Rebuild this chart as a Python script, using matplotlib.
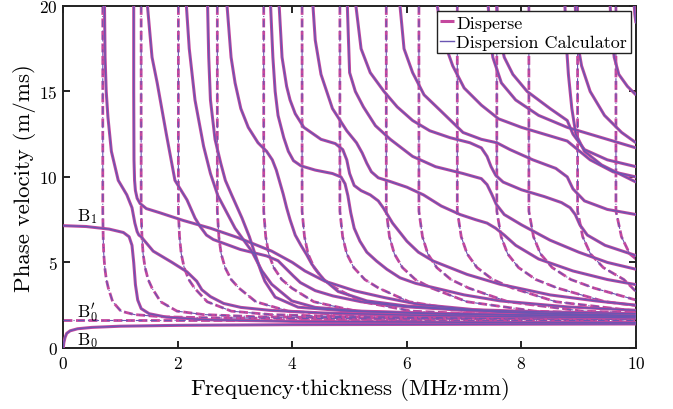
import matplotlib
matplotlib.use("Agg")
import matplotlib.pyplot as plt

plt.rcParams['font.family'] = ['cmr10']
plt.rcParams['mathtext.fontset'] = 'cm'
plt.rcParams['axes.formatter.use_mathtext'] = True

PINK = '#C4489E'
BLUE = '#6A55B2'

# ---- solid modes (fd in MHz*mm, phase velocity in m/ms) ----
b0_x = [0, 0.01, 0.03, 0.06, 0.12, 0.25, 0.5, 1.0, 2.0, 4.0, 7.0, 10.0]
b0_y = [0, 0.3, 0.6, 0.85, 1.0, 1.12, 1.2, 1.27, 1.32, 1.36, 1.38, 1.4]

b1_x = [0, 0.4, 0.8, 1.05, 1.15, 1.2, 1.23, 1.26, 1.3, 1.36, 1.5, 1.8, 2.5, 4, 7, 10]
b1_y = [7.15, 7.1, 6.95, 6.75, 6.5, 6.0, 5.0, 3.7, 2.8, 2.3, 2.0, 1.8, 1.65, 1.55, 1.5, 1.48]

sa_x = [0.72, 0.73, 0.75, 0.78, 0.84, 0.96, 1.11, 1.2, 1.25, 1.29, 1.32, 1.36, 1.57, 1.9, 2.16, 2.33, 2.42, 2.57, 2.8, 3.1, 3.6, 4.5, 6, 8, 10]
sa_y = [20, 17, 15, 13.5, 11.5, 9.8, 8.95, 8.2, 7.3, 6.8, 6.6, 6.5, 5.66, 5.0, 4.45, 3.9, 3.4, 3.0, 2.6, 2.37, 2.2, 2.05, 1.92, 1.82, 1.76]

sb_x = [1.23, 1.23, 1.235, 1.245, 1.26, 1.29, 1.34, 1.45, 1.69, 2.1, 2.57, 3.05, 3.64, 4.0, 4.22, 4.57, 5.1, 5.6, 6.2, 7.6, 10]
sb_y = [20, 15, 11, 9.8, 9.2, 8.75, 8.45, 8.15, 7.9, 7.45, 7.0, 6.45, 5.66, 5.0, 4.5, 3.9, 3.33, 2.95, 2.55, 2.1, 1.85]

sc_x = [1.47, 1.55, 1.64, 1.8, 1.95, 2.16, 2.3, 2.39, 2.5, 2.62, 3.09, 3.55, 3.75, 3.9, 4.02, 4.14, 4.4, 4.71, 5.2, 6, 7, 8.5, 10]
sc_y = [20, 17, 15.5, 12.5, 9.8, 8.66, 7.6, 7.1, 6.6, 6.34, 5.76, 5.38, 5.1, 4.6, 4.2, 3.82, 3.35, 3.04, 2.7, 2.4, 2.2, 2.0, 1.9]

sd_x = [2.15, 2.2, 2.3, 2.45, 2.57, 2.7, 3.0, 3.29, 3.47, 3.64, 3.99, 4.4, 5.2, 6.5, 8, 10]
sd_y = [20, 17.5, 14.5, 11.8, 10.2, 8.9, 7.0, 5.66, 4.5, 3.72, 2.75, 2.37, 2.15, 2.02, 1.93, 1.86]

se_x = [2.52, 2.54, 2.57, 2.65, 2.75, 2.83, 2.94, 3.12, 3.25, 3.35, 3.45, 3.52, 3.7, 4.1, 5, 6.5, 8, 10]
se_y = [20, 17, 14.5, 12.2, 10.8, 9.8, 8.95, 7.6, 6.5, 5.47, 4.5, 3.9, 2.97, 2.38, 2.15, 2.0, 1.92, 1.85]

sf_x = [2.86, 2.93, 3.0, 3.1, 3.23, 3.4, 3.55, 3.65, 3.72, 3.78, 3.84, 3.9, 3.96, 4.05, 4.15, 4.25, 4.34, 4.45, 4.55, 4.8, 5.3, 6, 7, 8.5, 10]
sf_y = [20, 17, 15.5, 14.0, 12.9, 12.0, 11.5, 11.0, 10.4, 9.7, 9.0, 8.2, 7.5, 6.6, 6.0, 5.45, 4.9, 4.4, 4.0, 3.3, 2.75, 2.45, 2.25, 2.1, 2.0]

sg_x = [3.62, 3.66, 3.7, 3.75, 3.85, 3.93, 4.02, 4.15, 4.4, 4.7, 4.85, 4.92, 4.97, 5.02, 5.08, 5.18, 5.3, 5.47, 5.65, 5.88, 6.15, 6.46, 7.0, 7.63, 8.8, 10]
sg_y = [20, 17, 15, 13.6, 12.3, 11.5, 10.95, 10.65, 10.4, 10.2, 10.0, 9.6, 8.9, 7.9, 7.0, 6.24, 5.6, 5.08, 4.6, 4.1, 3.78, 3.53, 3.1, 2.75, 2.4, 2.2]

sh_x = [3.77, 3.82, 3.9, 3.96, 4.05, 4.2, 4.5, 4.75, 4.88, 4.95, 5.0, 5.08, 5.2, 5.36, 5.5, 5.59, 5.75, 6.0, 6.2, 6.46, 7.05, 7.63, 8.5, 9.3, 10]
sh_y = [20, 17, 15.3, 14.5, 13.7, 12.9, 12.2, 11.95, 11.6, 11.0, 10.2, 9.5, 9.2, 8.95, 8.6, 8.18, 7.3, 6.24, 5.6, 5.08, 4.3, 3.72, 3.1, 2.75, 2.5]

si_x = [4.36, 4.4, 4.5, 4.7, 4.95, 5.12, 5.22, 5.3, 5.38, 5.5, 5.71, 6.0, 6.29, 6.6, 6.93, 7.2, 7.4, 7.55, 7.7, 7.9, 8.3, 8.9, 9.5, 10]
si_y = [20, 18, 16, 14, 12.7, 12.0, 11.4, 10.8, 10.3, 9.95, 9.73, 9.4, 8.95, 8.3, 7.8, 7.5, 7.3, 7.0, 6.6, 6.0, 5.2, 4.5, 4.0, 3.7]

sj_x = [4.96, 4.98, 5.0, 5.1, 5.24, 5.45, 5.71, 6.1, 6.5, 6.98, 7.3, 7.4, 7.48, 7.56, 7.7, 8.0, 8.5, 9.0, 9.5, 10]
sj_y = [20, 18, 16.1, 15, 14.1, 13.0, 12.2, 11.2, 10.6, 10.2, 9.9, 9.55, 9.0, 8.4, 7.8, 7.2, 6.3, 5.6, 5.0, 4.6]

sk_x = [5.11, 5.2, 5.36, 5.6, 5.83, 6.1, 6.4, 6.75, 7.1, 7.3, 7.4, 7.47, 7.55, 7.68, 8.0, 8.4, 8.7, 8.85, 8.94, 9.02, 9.15, 9.46, 10]
sk_y = [20, 17.5, 16.1, 15, 14.1, 13.3, 12.7, 12.3, 12.0, 11.7, 11.2, 10.6, 10.1, 9.7, 9.25, 8.85, 8.5, 8.2, 7.8, 7.2, 6.6, 6.0, 5.4]

sl_x = [5.88, 5.95, 6.1, 6.3, 6.58, 6.98, 7.3, 7.57, 7.8, 8.2, 8.6, 8.8, 8.9, 9.1, 9.5, 10]
sl_y = [20, 17.5, 16.1, 14.8, 13.9, 12.6, 12.2, 12.0, 11.6, 11.0, 10.5, 10.0, 9.3, 8.6, 8.1, 7.8]

sm_x = [6.53, 6.58, 6.63, 6.8, 7.0, 7.3, 7.6, 8.0, 8.5, 8.8, 9.2, 9.6, 10]
sm_y = [20, 19, 18.1, 16.5, 15.2, 14.2, 13.4, 12.9, 12.4, 12.1, 11.0, 10.3, 10.0]

sn_x = [7.42, 7.45, 7.5, 7.65, 7.9, 8.3, 8.8, 9.3, 9.8, 10]
sn_y = [20, 18.5, 17, 15.5, 14.5, 13.6, 12.9, 12.4, 11.9, 11.7]

so_x = [7.57, 7.6, 7.7, 7.85, 8.1, 8.5, 8.8, 8.9, 9.1, 9.5, 10]
so_y = [20, 18.5, 17, 16, 15, 14, 13.3, 12.5, 11.6, 11.0, 10.6]

sp_x = [8.76, 8.78, 8.82, 8.88, 8.95, 9.1, 9.4, 9.7, 10]
sp_y = [20, 18, 16, 14, 12.5, 11.5, 10.7, 10.2, 9.7]

sq_x = [8.94, 8.97, 9.05, 9.2, 9.45, 9.75, 10]
sq_y = [20, 18, 16.5, 15.0, 13.6, 12.6, 12.0]

sr_x = [9.55, 9.57, 9.62, 9.7, 9.85, 10]
sr_y = [20, 18.5, 17, 16, 15.3, 14.8]

ss_x = [9.97, 9.98, 10]
ss_y = [20, 19.5, 19]

# ---- dashed modes (B0' and its overtones) ----
b0p_x = [0, 10]
b0p_y = [1.65, 1.65]

d1_x = [0.69, 0.69, 0.697, 0.707, 0.725, 0.752, 0.787, 0.863, 1.007, 1.242, 1.725, 2.76, 5.52, 10]
d1_y = [20, 8, 6.5, 5.5, 4.7, 4.0, 3.5, 2.7, 2.15, 1.95, 1.82, 1.75, 1.7, 1.68]
d2_x = [1.36, 1.36, 1.374, 1.394, 1.428, 1.482, 1.55, 1.7, 1.986, 2.448, 3.4, 5.44, 10]
d2_y = [20, 8, 6.5, 5.5, 4.7, 4.0, 3.5, 2.7, 2.15, 1.95, 1.82, 1.75, 1.71]
d3_x = [2.01, 2.01, 2.03, 2.06, 2.111, 2.191, 2.291, 2.513, 2.935, 3.618, 5.025, 8.04, 10]
d3_y = [20, 8, 6.5, 5.5, 4.7, 4.0, 3.5, 2.7, 2.15, 1.95, 1.82, 1.75, 1.74]
d4_x = [2.69, 2.69, 2.717, 2.757, 2.825, 2.932, 3.067, 3.363, 3.927, 4.842, 6.725, 10]
d4_y = [20, 8, 6.5, 5.5, 4.7, 4.0, 3.5, 2.7, 2.15, 1.95, 1.82, 1.76]
d5_x = [3.5, 3.5, 3.535, 3.588, 3.675, 3.815, 3.99, 4.375, 5.11, 6.3, 8.75, 10]
d5_y = [20, 8, 6.5, 5.5, 4.7, 4.0, 3.5, 2.7, 2.15, 1.95, 1.82, 1.8]
d6_x = [4.17, 4.17, 4.212, 4.274, 4.379, 4.545, 4.754, 5.213, 6.088, 7.506, 10]
d6_y = [20, 8, 6.5, 5.5, 4.7, 4.0, 3.5, 2.7, 2.15, 1.95, 1.83]
d7_x = [4.83, 4.83, 4.878, 4.951, 5.072, 5.265, 5.506, 6.038, 7.052, 8.694, 10]
d7_y = [20, 8, 6.5, 5.5, 4.7, 4.0, 3.5, 2.7, 2.15, 1.95, 1.92]
d8_x = [5.64, 5.64, 5.696, 5.781, 5.922, 6.148, 6.43, 7.05, 8.234, 10]
d8_y = [20, 8, 6.5, 5.5, 4.7, 4.0, 3.5, 2.7, 2.15, 1.96]
d9_x = [6.21, 6.21, 6.272, 6.365, 6.521, 6.769, 7.079, 7.763, 9.067, 10]
d9_y = [20, 8, 6.5, 5.5, 4.7, 4.0, 3.5, 2.7, 2.15, 2.06]
d10_x = [6.88, 6.88, 6.949, 7.052, 7.224, 7.499, 7.843, 8.6, 10]
d10_y = [20, 8, 6.5, 5.5, 4.7, 4.0, 3.5, 2.7, 2.16]
d11_x = [7.57, 7.57, 7.646, 7.759, 7.949, 8.251, 8.63, 9.463, 10]
d11_y = [20, 8, 6.5, 5.5, 4.7, 4.0, 3.5, 2.7, 2.48]
d12_x = [8.13, 8.13, 8.211, 8.333, 8.537, 8.862, 9.268, 10]
d12_y = [20, 8, 6.5, 5.5, 4.7, 4.0, 3.5, 2.8]
d13_x = [8.98, 8.98, 9.07, 9.205, 9.429, 9.788, 10]
d13_y = [20, 8, 6.5, 5.5, 4.7, 4.0, 3.3]
d14_x = [9.65, 9.65, 9.747, 9.891, 10]
d14_y = [20, 8, 6.5, 5.5, 5.2]

solid_modes = [(b0_x, b0_y), (b1_x, b1_y), (sa_x, sa_y), (sb_x, sb_y), (sc_x, sc_y),
               (sd_x, sd_y), (se_x, se_y), (sf_x, sf_y), (sg_x, sg_y), (sh_x, sh_y),
               (si_x, si_y), (sj_x, sj_y), (sk_x, sk_y), (sl_x, sl_y), (sm_x, sm_y),
               (sn_x, sn_y), (so_x, so_y), (sp_x, sp_y), (sq_x, sq_y), (sr_x, sr_y),
               (ss_x, ss_y)]
dashed_modes = [(b0p_x, b0p_y), (d1_x, d1_y), (d2_x, d2_y), (d3_x, d3_y), (d4_x, d4_y),
                (d5_x, d5_y), (d6_x, d6_y), (d7_x, d7_y), (d8_x, d8_y), (d9_x, d9_y),
                (d10_x, d10_y), (d11_x, d11_y), (d12_x, d12_y), (d13_x, d13_y),
                (d14_x, d14_y)]

fig = plt.figure(figsize=(6.73, 4.10), dpi=100)
ax = fig.add_axes([0.094, 0.149, 0.851, 0.834])

for x, y in dashed_modes:
    ax.plot(x, y, color=PINK, lw=2.0, linestyle=(0, (3.2, 1.3)), zorder=2)
    ax.plot(x, y, color=BLUE, lw=0.8, linestyle=(0, (6, 3, 1, 3)), zorder=3)

for i, (x, y) in enumerate(solid_modes):
    ax.plot(x, y, color=PINK, lw=2.2, zorder=4,
            label='Disperse' if i == 0 else None, solid_capstyle='butt')
    ax.plot(x, y, color=BLUE, lw=1.0, zorder=5,
            label='Dispersion Calculator' if i == 0 else None)

ax.set_xlim(0, 10)
ax.set_ylim(0, 20)
ax.set_xticks([0, 2, 4, 6, 8, 10])
ax.set_yticks([0, 5, 10, 15, 20])
ax.tick_params(direction='in', top=True, right=True, length=5, width=1.2,
               labelsize=12.5)
ax.tick_params(axis='x', pad=5)
ax.tick_params(axis='y', pad=4)
for s in ax.spines.values():
    s.set_linewidth(1.4)
    s.set_color('#222222')

ax.set_xlabel(r'Frequency$\cdot$thickness (MHz$\cdot$mm)', fontsize=16.5, labelpad=3)
ax.set_ylabel('Phase velocity (m/ms)', fontsize=16.5, labelpad=2)

ax.text(0.245, 7.5, r'B$_1$', fontsize=12.5, ha='left', va='baseline')
ax.text(0.245, 1.8, r"B$_0'$", fontsize=12.5, ha='left', va='baseline')
ax.text(0.245, 0.23, r'B$_0$', fontsize=12.5, ha='left', va='baseline')

leg = ax.legend(loc='upper right', fontsize=13, handlelength=0.75, handletextpad=0.12,
                borderpad=0.2, labelspacing=0.2, borderaxespad=0.3,
                fancybox=False, framealpha=1, edgecolor='#222222')
leg.get_frame().set_linewidth(1.0)
leg.set_zorder(10)

fig.savefig('out.png', dpi=100)
